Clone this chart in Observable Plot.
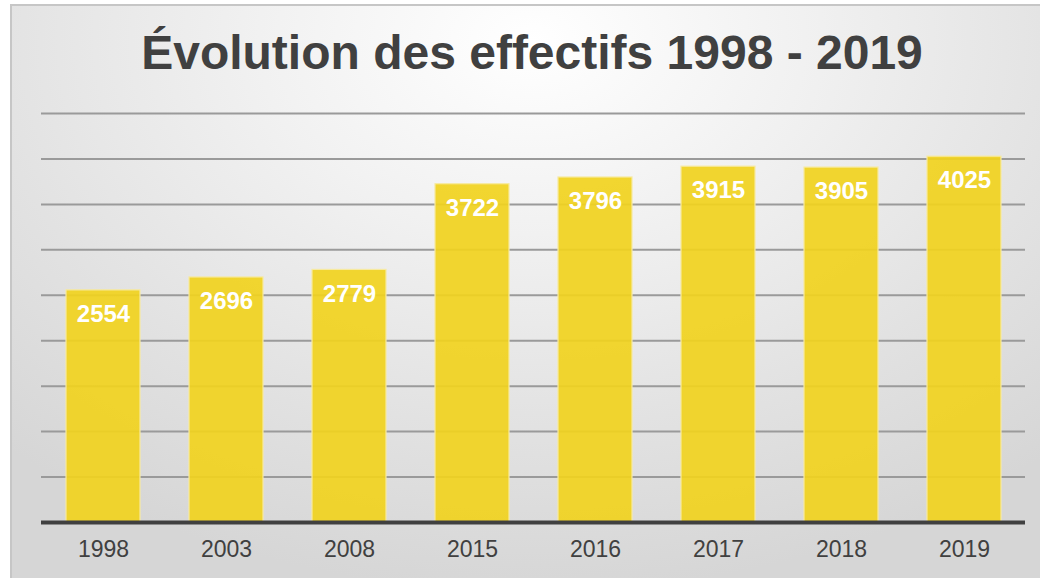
<!DOCTYPE html>
<html>
<head>
<meta charset="utf-8">
<script src="https://cdn.jsdelivr.net/npm/d3@7"></script>
<script src="https://cdn.jsdelivr.net/npm/@observablehq/plot@0.6"></script>
<style>
  html, body { margin: 0; padding: 0; background: #fff; width: 1040px; height: 578px; overflow: hidden; }
  #frame {
    position: absolute; left: 10px; top: 4px; width: 1040px; height: 580px;
    border-left: 2px solid #c6c6c6; border-top: 2px solid #c6c6c6;
    background: radial-gradient(ellipse 75% 95% at 50% 6%, #ffffff 0%, #f1f1f1 35%, #e2e2e2 70%, #d6d6d6 100%);
  }
  #title {
    position: absolute; left: 0; top: 25px; width: 1064px; text-align: center;
    font-family: "Liberation Sans", Arial, sans-serif; font-weight: bold; font-size: 48px;
    color: #404040; line-height: 56px;
  }
  #chart { position: absolute; left: 0; top: 100px; }
</style>
</head>
<body>
<div id="frame"></div>
<div id="title">Évolution des effectifs 1998 - 2019</div>
<div id="chart"></div>
<script>
const years = ["1998", "2003", "2008", "2015", "2016", "2017", "2018", "2019"];
const effectifs = [2554, 2696, 2779, 3722, 3796, 3915, 3905, 4025];
const gridValues = [500, 1000, 1500, 2000, 2500, 3000, 3500, 4000, 4500];

const data = years.map((y, i) => ({year: y, value: effectifs[i]}));

const chart = Plot.plot({
  width: 1040,
  height: 478,
  marginTop: 13,
  marginBottom: 56,
  marginLeft: 41,
  marginRight: 15,
  style: {background: "transparent", fontFamily: "'Liberation Sans', Arial, sans-serif"},
  x: {domain: years, paddingInner: 0.4, paddingOuter: 0.2, label: null},
  y: {domain: [0, 4500], label: null, axis: null},
  marks: [
    Plot.ruleY(gridValues, {stroke: "#9a9a9a", strokeWidth: 2}),
    Plot.barY(data, {x: "year", y: "value", fill: "#F1D21E", fillOpacity: 0.92, stroke: "#f7eaa0", strokeWidth: 1.2}),
    Plot.ruleY([0], {stroke: "#404040", strokeWidth: 4}),
    Plot.text(data, {x: "year", y: "value", text: d => String(d.value), dy: 24, fill: "#ffffff", fontWeight: "bold", fontSize: 24}),
    Plot.axisX({tickSize: 0, tickPadding: 18, fontSize: 23, color: "#404040", label: null})
  ]
});
document.getElementById("chart").appendChild(chart);
</script>
</body>
</html>
